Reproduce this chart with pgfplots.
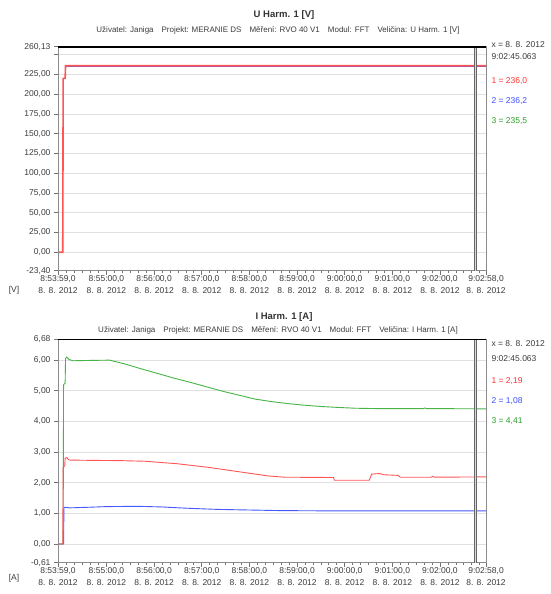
\documentclass[border=0pt]{standalone}
\usepackage{fontspec}
\setmainfont{Liberation Sans}
\usepackage{pgfplots}
\pgfplotsset{compat=1.18}
\definecolor{cred}{RGB}{255,85,85}
\definecolor{cblue}{RGB}{70,90,255}
\definecolor{cgreen}{RGB}{70,180,70}
\definecolor{tred}{RGB}{255,50,50}
\definecolor{tblue}{RGB}{60,80,255}
\definecolor{tgreen}{RGB}{40,160,40}
\definecolor{txt}{RGB}{60,60,60}
\begin{document}
\begin{tikzpicture}[x=1pt,y=1pt]
\path[use as bounding box, fill=white] (0pt,0pt) rectangle (550pt,594pt);
\pgfplotsset{
  myax/.style={
    scale only axis, width=428pt, height=224pt, anchor=south west,
    xmin=0, xmax=539,
    xtick={0,61,121,181,241,301,361,421,481,539},
    xticklabels={{8:53:59,0\\8. 8. 2012},{8:55:00,0\\8. 8. 2012},{8:56:00,0\\8. 8. 2012},{8:57:00,0\\8. 8. 2012},{8:58:00,0\\8. 8. 2012},{8:59:00,0\\8. 8. 2012},{9:00:00,0\\8. 8. 2012},{9:01:00,0\\8. 8. 2012},{9:02:00,0\\8. 8. 2012},{9:02:58,0\\8. 8. 2012}},
    minor xtick={11,21,31,41,51,71,81,91,101,111,131,141,151,161,171,191,201,211,221,231,251,261,271,281,291,311,321,331,341,351,371,381,391,401,411,431,441,451,461,471,491,501,511,521,531},
    tick align=outside, xtick pos=bottom, ytick pos=left,
    major tick length=4pt, minor tick length=2.5pt,
    every tick/.style={black!55, line width=0.6pt},
    axis line style={black!45, line width=0.8pt},
    ymajorgrids, grid style={black!12, line width=0.8pt},
    tick label style={font=\fontsize{8.5}{12}\selectfont, text=txt},
    xticklabel style={align=center, inner sep=1pt},
    /pgf/number format/assume math mode=true,
    clip=true,
  }
}
% ---------- top chart ----------
\node[font=\bfseries\fontsize{9.5}{11}\selectfont, text=black!80] at (284pt,579pt) {U Harm. 1 [V]};
\node[font=\fontsize{8}{9}\selectfont, text=txt] at (278pt,564pt) {Uživatel: Janiga\quad Projekt: MERANIE DS\quad Měření: RVO 40 V1\quad Modul: FFT\quad Veličina: U Harm. 1 [V]};
\begin{axis}[myax, at={(58pt,323.3pt)},
  ymin=-23.4, ymax=260.13,
  ytick={-23.4,0,25,50,75,100,125,150,175,200,225,250,260.13},
  yticklabels={{-23,40},{0,00},{25,00},{50,00},{75,00},{100,00},{125,00},{150,00},{175,00},{200,00},{225,00},{},{260,13}},
]
\addplot[cgreen, line width=0.3pt] coordinates {(9.5,236.0) (539,236.0)};
\addplot[cblue, line width=0.3pt] coordinates {(9.5,236.0) (539,236.0)};
\addplot[cred, line width=1.6pt] coordinates {(1.5,0) (6,0) (6.5,220) (9,220) (9.5,236) (200,236) (539,236)};
\draw[black!60, line width=0.6pt, double=black!15, double distance=1.2pt] (axis cs:526,-23.4) -- (axis cs:526,260.13);
\draw[black, line width=2pt] (rel axis cs:0,1) -- (rel axis cs:1,1);
\end{axis}
\node[font=\fontsize{8.5}{10}\selectfont, text=txt] at (14pt,304pt) {[V]};
\node[anchor=west, font=\fontsize{8.5}{10}\selectfont, text=txt] at (488pt,549pt) {x = 8. 8. 2012};
\node[anchor=west, font=\fontsize{8.5}{10}\selectfont, text=txt] at (488pt,537pt) {9:02:45.063};
\node[anchor=west, font=\fontsize{8.5}{10}\selectfont, text=tred] at (488pt,512.5pt) {1 = 236,0};
\node[anchor=west, font=\fontsize{8.5}{10}\selectfont, text=tblue] at (488pt,492.5pt) {2 = 236,2};
\node[anchor=west, font=\fontsize{8.5}{10}\selectfont, text=tgreen] at (488pt,472.5pt) {3 = 235,5};
% ---------- bottom chart ----------
\node[font=\bfseries\fontsize{9.5}{11}\selectfont, text=black!80] at (284pt,277pt) {I Harm. 1 [A]};
\node[font=\fontsize{8}{9}\selectfont, text=txt] at (278pt,264pt) {Uživatel: Janiga\quad Projekt: MERANIE DS\quad Měření: RVO 40 V1\quad Modul: FFT\quad Veličina: I Harm. 1 [A]};
\begin{axis}[myax, at={(58pt,31.3pt)}, height=223.4pt,
  ymin=-0.61, ymax=6.68,
  ytick={-0.61,0,1,2,3,4,5,6,6.68},
  yticklabels={{-0,61},{0,00},{1,00},{2,00},{3,00},{4,00},{5,00},{6,00},{6,68}},
]
\addplot[cblue, line width=0.9pt] coordinates {(1.5,0) (7,0) (7.5,1.2) (15,1.18) (40,1.2) (60,1.22) (100,1.23) (130,1.21) (160,1.17) (200,1.13) (240,1.11) (280,1.09) (350,1.08) (539,1.08)};
\addplot[cgreen, line width=0.9pt] coordinates {(1.5,0) (6.5,0) (7,5.2) (9,5.25) (9.5,6.05) (11,6.1) (14,6.02) (19,5.98) (40,5.99) (65,6.0) (85,5.87) (103,5.73) (125,5.57) (145,5.42) (166,5.28) (187,5.13) (208,4.98) (229,4.85) (248,4.73) (268,4.65) (290,4.58) (310,4.53) (330,4.49) (350,4.46) (375,4.43) (400,4.42) (460,4.42) (462,4.44) (464,4.42) (539,4.41)};
\addplot[cred, line width=0.9pt] coordinates {(1.5,0) (6,0) (6.5,2.5) (8.5,2.55) (9,2.8) (11,2.82) (14,2.74) (40,2.73) (80,2.72) (110,2.7) (150,2.62) (190,2.5) (230,2.35) (265,2.22) (285,2.18) (347,2.17) (348,2.08) (392,2.08) (395,2.28) (405,2.30) (410,2.26) (428,2.24) (431,2.18) (470,2.18) (472,2.21) (474,2.18) (539,2.19)};
\draw[black!60, line width=0.6pt, double=black!15, double distance=1.2pt] (axis cs:526,-0.61) -- (axis cs:526,6.68);
\draw[black, line width=2pt] (rel axis cs:0,1) -- (rel axis cs:1,1);
\end{axis}
\node[font=\fontsize{8.5}{10}\selectfont, text=txt] at (14pt,16pt) {[A]};
\node[anchor=west, font=\fontsize{8.5}{10}\selectfont, text=txt] at (488pt,250pt) {x = 8. 8. 2012};
\node[anchor=west, font=\fontsize{8.5}{10}\selectfont, text=txt] at (488pt,235pt) {9:02:45.063};
\node[anchor=west, font=\fontsize{8.5}{10}\selectfont, text=tred] at (488pt,212.5pt) {1 = 2,19};
\node[anchor=west, font=\fontsize{8.5}{10}\selectfont, text=tblue] at (488pt,192.5pt) {2 = 1,08};
\node[anchor=west, font=\fontsize{8.5}{10}\selectfont, text=tgreen] at (488pt,172.5pt) {3 = 4,41};
\end{tikzpicture}
\end{document}
